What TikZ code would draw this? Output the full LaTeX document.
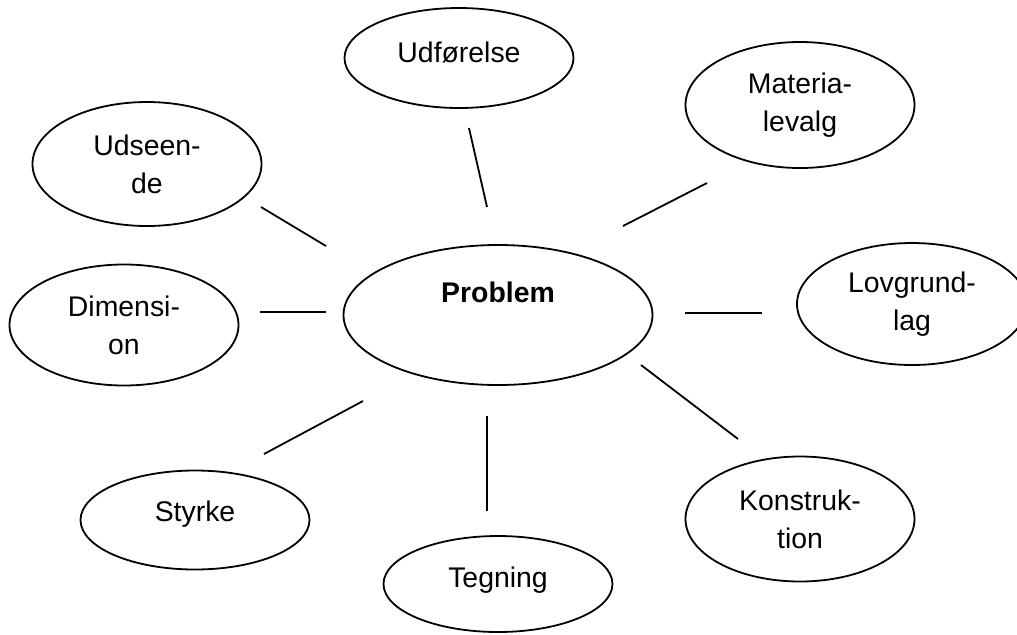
\documentclass[tikz,border=0pt]{standalone}
\usepackage{fontspec}
\setmainfont{Liberation Sans}
\usetikzlibrary{shapes.geometric}
\begin{document}
\begin{tikzpicture}[x=0.5pt,y=-0.5pt,
  bubble/.style={draw,ellipse,line width=0.9pt,inner sep=0pt,align=center,
    font=\fontsize{14.2}{19}\selectfont,minimum width=114.5pt,minimum height=62pt},
  lift/.style={text height=10pt,text depth=#1},
  spoke/.style={line width=0.9pt}]
\clip (0,0) rectangle (1017,634);
\node (prob) at (498,315)[bubble,minimum width=154.5pt,minimum height=70pt,lift=23pt,font=\fontsize{14.2}{19}\selectfont\bfseries]{Problem};
\node (udf) at (459,58)[bubble,minimum height=50pt,lift=6pt]{Udførelse};
\node (mat) at (800,105)[bubble,minimum height=63pt]{Materia-\\levalg};
\node (lov) at (912,304)[bubble,minimum width=115pt,minimum height=61pt]{Lovgrund-\\lag};
\node (kon) at (800,519)[bubble,minimum height=62.5pt]{Konstruk-\\tion};
\node (teg) at (498,584)[bubble,minimum height=48pt,lift=7pt]{Tegning};
\node (sty) at (195,520)[bubble,minimum height=49.5pt,lift=9pt]{Styrke};
\node (dim) at (124,325)[bubble,minimum height=60.5pt]{Dimensi-\\on};
\node (uds) at (147,164)[bubble,minimum height=62pt]{Udseen-\\de};
\coordinate (udfA) at (469,128); \coordinate (udfB) at (487,207);
\coordinate (matA) at (707,183); \coordinate (matB) at (623,226);
\coordinate (lovA) at (762,313); \coordinate (lovB) at (685,313);
\coordinate (konA) at (738,439); \coordinate (konB) at (641,365);
\coordinate (tegA) at (487,511); \coordinate (tegB) at (487,416);
\coordinate (styA) at (264,454); \coordinate (styB) at (363,401);
\coordinate (dimA) at (260,312); \coordinate (dimB) at (326,312);
\coordinate (udsA) at (261,207); \coordinate (udsB) at (326,246);
\draw[spoke] (udfA)--(udfB);
\draw[spoke] (matA)--(matB);
\draw[spoke] (lovA)--(lovB);
\draw[spoke] (konA)--(konB);
\draw[spoke] (tegA)--(tegB);
\draw[spoke] (styA)--(styB);
\draw[spoke] (dimA)--(dimB);
\draw[spoke] (udsA)--(udsB);
\end{tikzpicture}
\end{document}
